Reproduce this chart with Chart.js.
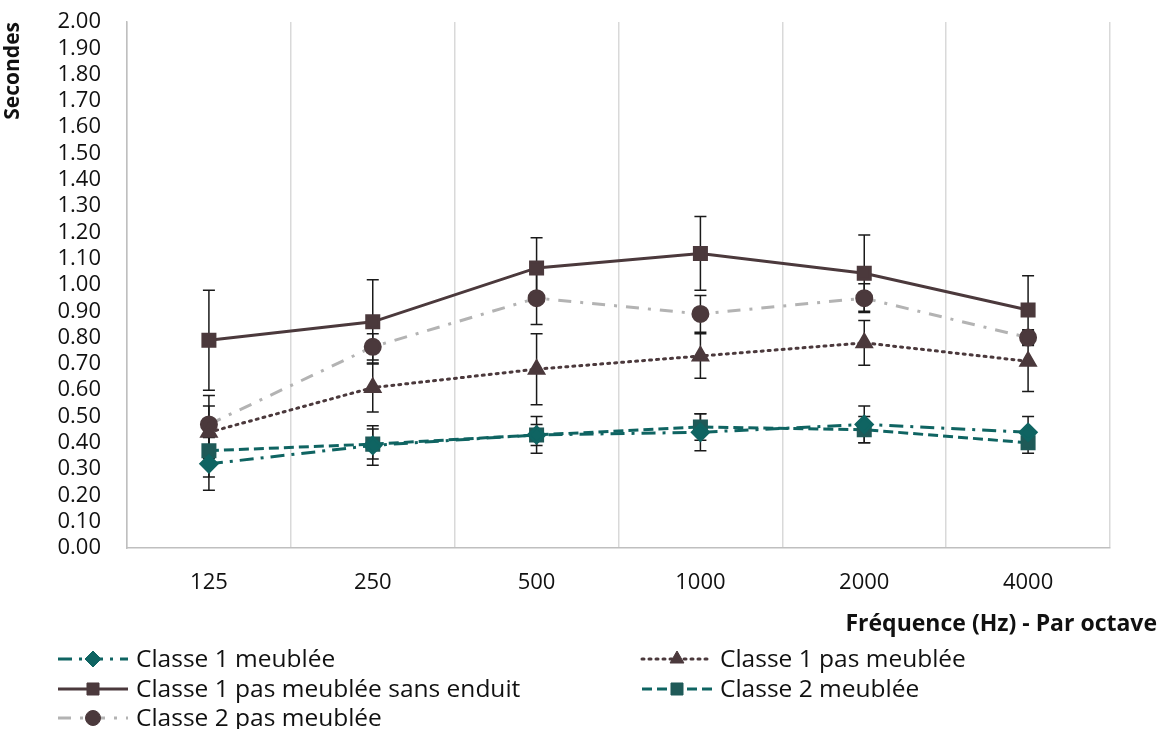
<!DOCTYPE html>
<html>
<head>
<meta charset="utf-8">
<script src="https://cdn.jsdelivr.net/npm/chart.js@4/dist/chart.umd.min.js"></script>
<style>
  html, body { margin: 0; padding: 0; background: #fff; }
  #wrap { width: 1161px; height: 729px; }
</style>
</head>
<body>
<div id="wrap"><canvas id="tr"></canvas></div>
<script>
// frequencies per octave
var categories = ['125', '250', '500', '1000', '2000', '4000'];

// reverberation time (s) and error bar half-widths
var c1Meublee = [0.32, 0.39, 0.43, 0.44, 0.47, 0.44];
var c1MeubleeErr = [0.10, 0.075, 0.07, 0.07, 0.07, 0.06];
var c1PasMeublee = [0.44, 0.61, 0.68, 0.73, 0.78, 0.71];
var c1PasMeubleeErr = [0.10, 0.093, 0.135, 0.085, 0.085, 0.115];
var c1SansEnduit = [0.79, 0.86, 1.065, 1.12, 1.045, 0.905];
var c1SansEnduitErr = [0.19, 0.16, 0.115, 0.14, 0.145, 0.13];
var c2Meublee = [0.37, 0.395, 0.43, 0.46, 0.45, 0.40];
var c2MeubleeErr = [0.10, 0.057, 0.04, 0.05, 0.05, 0.04];
var c2PasMeublee = [0.47, 0.765, 0.95, 0.89, 0.95, 0.80];
var c2PasMeubleeErr = [0.11, 0.05, 0.10, 0.07, 0.055, 0.03];

var teal = '#0f6462';
var brown = '#4b393c';
var FONT = '"Open Sans", "Noto Sans", sans-serif';

var datasets = [
    { label: 'Classe 1 meublée', data: c1Meublee, err: c1MeubleeErr,
      borderColor: teal, backgroundColor: teal, borderWidth: 3, borderDash: [14, 7, 3, 7],
      pointStyle: 'rectRot', pointRadius: 8, pointBorderColor: teal, pointBackgroundColor: teal },
    { label: 'Classe 1 pas meublée', data: c1PasMeublee, err: c1PasMeubleeErr,
      borderColor: brown, backgroundColor: brown, borderWidth: 3, borderDash: [2, 5], borderCapStyle: 'round',
      pointStyle: 'triangle', pointRadius: 8, pointBorderColor: brown, pointBackgroundColor: brown },
    { label: 'Classe 1 pas meublée sans enduit', data: c1SansEnduit, err: c1SansEnduitErr,
      borderColor: brown, backgroundColor: brown, borderWidth: 3,
      pointStyle: 'rect', pointRadius: 8.5, pointBorderColor: brown, pointBackgroundColor: brown },
    { label: 'Classe 2 meublée', data: c2Meublee, err: c2MeubleeErr,
      borderColor: teal, backgroundColor: teal, borderWidth: 3, borderDash: [10, 5],
      pointStyle: 'rect', pointRadius: 8.5, pointBorderColor: '#1f5a58', pointBackgroundColor: '#1f5a58' },
    { label: 'Classe 2 pas meublée', data: c2PasMeublee, err: c2PasMeubleeErr,
      borderColor: '#b3b3b3', backgroundColor: brown, borderWidth: 3, borderDash: [13, 9, 3, 9],
      pointStyle: 'circle', pointRadius: 7.5, pointBorderColor: brown, pointBackgroundColor: brown }
];

var errorBars = {
    id: 'errorBars',
    beforeDatasetsDraw: function(chart) {
        var ctx = chart.ctx, x = chart.scales.x, y = chart.scales.y;
        ctx.save();
        ctx.strokeStyle = '#1a1a1a';
        ctx.lineWidth = 1.5;
        chart.data.datasets.forEach(function(ds) {
            ds.data.forEach(function(v, i) {
                var px = x.getPixelForValue(i);
                var top = y.getPixelForValue(v + ds.err[i]);
                var bot = y.getPixelForValue(v - ds.err[i]);
                ctx.beginPath();
                ctx.moveTo(px, top); ctx.lineTo(px, bot);
                ctx.moveTo(px - 6, top); ctx.lineTo(px + 6, top);
                ctx.moveTo(px - 6, bot); ctx.lineTo(px + 6, bot);
                ctx.stroke();
            });
        });
        ctx.restore();
    }
};

var extras = {
    id: 'extras',
    afterDraw: function(chart) {
        var ctx = chart.ctx;
        ctx.save();
        ctx.fillStyle = '#111';
        ctx.font = 'bold 23px ' + FONT;
        ctx.textAlign = 'right';
        ctx.textBaseline = 'middle';
        ctx.fillText('Fréquence (Hz) - Par octave', 1157, 624);

        // legend, two columns
        var slots = [[58, 659], [642, 659], [58, 689], [642, 689], [58, 718]];
        ctx.font = '24.5px ' + FONT;
        ctx.textAlign = 'left';
        chart.data.datasets.forEach(function(ds, i) {
            var sx = slots[i][0], sy = slots[i][1];
            ctx.save();
            ctx.strokeStyle = ds.borderColor;
            ctx.lineWidth = ds.borderWidth;
            ctx.setLineDash(ds.borderDash || []);
            ctx.lineCap = ds.borderCapStyle || 'butt';
            ctx.beginPath();
            ctx.moveTo(sx, sy); ctx.lineTo(sx + 70, sy);
            ctx.stroke();
            ctx.restore();
            ctx.fillStyle = ds.pointBackgroundColor;
            ctx.strokeStyle = ds.pointBorderColor;
            Chart.helpers.drawPoint(ctx, { pointStyle: ds.pointStyle, radius: ds.pointRadius, borderWidth: 1, rotation: 0 }, sx + 35, sy);
            ctx.fillStyle = '#111';
            ctx.fillText(ds.label, sx + 78, sy + 1);
        });
        ctx.restore();
    }
};

new Chart(document.getElementById('tr'), {
    type: 'line',
    data: { labels: categories, datasets: datasets },
    options: {
        responsive: true,
        maintainAspectRatio: false,
        animation: false,
        layout: { padding: { top: 22, right: 51, bottom: 89, left: 0 } },
        plugins: {
            legend: { display: false },
            tooltip: { enabled: false }
        },
        scales: {
            x: {
                offset: true,
                grid: { offset: true, color: '#d9d9d9', lineWidth: 1.5, drawTicks: false },
                border: { color: '#bfbfbf', width: 1.5 },
                ticks: { color: '#111', font: { family: FONT, size: 22 }, padding: 22 },
                afterFit: function(s) { s.height = 92; s.paddingLeft = 0; s.paddingRight = 0; }
            },
            y: {
                min: 0, max: 2,
                grid: { display: false, drawTicks: false },
                border: { color: '#bfbfbf', width: 1.5 },
                ticks: { stepSize: 0.1, autoSkip: false, color: '#111', font: { family: FONT, size: 22 }, padding: 26,
                         callback: function(v) { return v.toFixed(2); } },
                title: { display: true, text: 'Secondes', align: 'end', color: '#111',
                         font: { family: FONT, size: 21, weight: 'bold' }, padding: { top: 0, bottom: 0 } },
                afterFit: function(s) { s.width = 127; s.paddingTop = 0; s.paddingBottom = 0; }
            }
        }
    },
    plugins: [errorBars, extras]
});
</script>
</body>
</html>
